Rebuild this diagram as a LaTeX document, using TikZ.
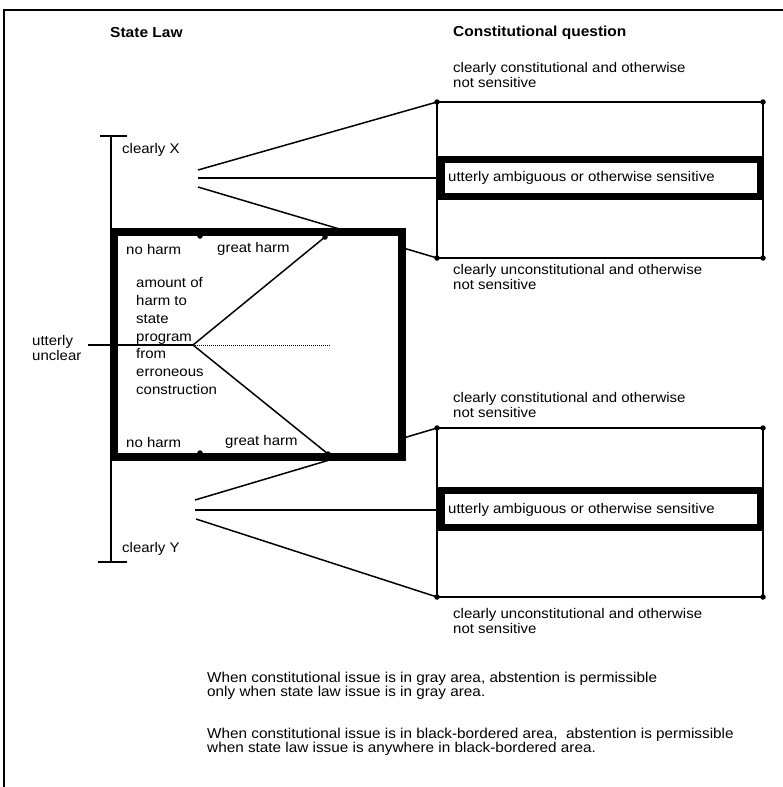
\documentclass[tikz,border=0pt]{standalone}
\usepackage{fontspec}
\setmainfont{Liberation Sans}[FakeStretch=1.07]
\usepackage{tikz}
\tikzstyle{none}=[inner sep=0pt]
\tikzstyle{dot}=[circle,fill=black,draw=none,inner sep=0pt,minimum size=5.5pt]
\tikzstyle{lbl}=[anchor=west,align=left,inner sep=0pt,
  font=\fontsize{14}{15}\selectfont]
\tikzstyle{head}=[anchor=west,inner sep=0pt,font=\fontsize{14.5}{15}\selectfont\bfseries]
\tikzstyle{col}=[anchor=west,align=left,inner sep=0pt,
  font=\fontsize{14}{17.7}\selectfont]
\tikzstyle{note}=[anchor=west,align=left,inner sep=0pt,
  font=\fontsize{14.3}{14}\selectfont]
\tikzstyle{wire}=[line width=1.5pt]
\tikzstyle{frame}=[line width=2pt]
\tikzstyle{heavy}=[line width=8pt,fill=white]
\tikzstyle{band}=[line width=7pt]
\tikzstyle{thin box}=[line width=1.3pt]

\begin{document}
\begin{tikzpicture}[x=1pt,y=-1pt]
            \useasboundingbox (0, 0) rectangle (783, 787);
            % frame
            \node [style=none] (0) at (4, 787) {};
            \node [style=none] (1) at (4, 10) {};
            \node [style=none] (2) at (783, 10) {};
            \draw [style=frame] (0.center) to (1.center) to (2.center);
            % headings
            \node [style=head] (40) at (110, 33) {State Law};
            \node [style=head] (41) at (453, 33) {Constitutional question};
            % state law bracket
            \node [style=none] (3) at (111, 136) {};
            \node [style=none] (4) at (111, 562) {};
            \node [style=none] (5) at (100, 136) {};
            \node [style=none] (6) at (127, 136) {};
            \node [style=none] (7) at (98, 562) {};
            \node [style=none] (8) at (127, 562) {};
            \node [style=lbl] (42) at (122, 150) {clearly X};
            \node [style=lbl] (43) at (122, 549) {clearly Y};
            \node [style=lbl] (44) at (32, 348) {utterly\\unclear};
            \draw [style=wire] (3.center) to (4.center);
            \draw [style=wire] (5.center) to (6.center);
            \draw [style=wire] (7.center) to (8.center);
            % upper fan
            \node [style=none] (9) at (198, 170) {};
            \node [style=none] (10) at (198, 178) {};
            \node [style=none] (11) at (198, 187) {};
            \node [style=dot] (12) at (437, 102) {};
            \node [style=dot] (13) at (763, 102) {};
            \node [style=dot] (14) at (437, 258) {};
            \node [style=dot] (15) at (763, 258) {};
            \node [style=none] (16) at (441, 159) {};
            \node [style=none] (17) at (760, 196) {};
            \node [style=none] (18) at (437, 178) {};
            \draw [style=wire] (9.center) to (12.center);
            \draw [style=wire] (10.center) to (18.center);
            \draw [style=wire] (11.center) to (14.center);
            % lower fan
            \node [style=none] (19) at (195, 500) {};
            \node [style=none] (20) at (195, 510) {};
            \node [style=none] (21) at (196, 519) {};
            \node [style=dot] (22) at (437, 428) {};
            \node [style=dot] (23) at (763, 428) {};
            \node [style=dot] (24) at (437, 597) {};
            \node [style=dot] (25) at (763, 597) {};
            \node [style=none] (26) at (441, 490) {};
            \node [style=none] (27) at (760, 527) {};
            \node [style=none] (28) at (437, 510) {};
            \draw [style=wire] (19.center) to (22.center);
            \draw [style=wire] (20.center) to (28.center);
            \draw [style=wire] (21.center) to (24.center);
            % harm box
            \node [style=none] (29) at (114, 232) {};
            \node [style=none] (30) at (402, 457) {};
            \draw [style=heavy] (29.center) rectangle (30.center);
            \node [style=dot] (31) at (200, 236) {};
            \node [style=dot] (32) at (325, 237) {};
            \node [style=dot] (33) at (200, 453) {};
            \node [style=dot] (34) at (328, 454) {};
            \node [style=none] (35) at (193, 345) {};
            \node [style=none] (36) at (88, 345) {};
            \node [style=none] (37) at (331, 345) {};
            \draw [style=wire] (36.center) to (35.center);
            \draw [style=wire] (35.center) to (32.center);
            \draw [style=wire] (35.center) to (34.center);
            \draw [line width=1pt, densely dotted] (35.center) to (37.center);
            \node [style=lbl] (45) at (126, 249) {no harm};
            \node [style=lbl] (46) at (217, 249) {great harm};
            \node [style=lbl] (47) at (126, 442) {no harm};
            \node [style=lbl] (48) at (225, 442) {great harm};
            \node [style=col] (49) at (136, 336) {amount of\\harm to\\state\\program\\from\\erroneous\\construction};
            % constitutional boxes
            \draw [style=thin box] (12.center) rectangle (15.center);
            \draw [style=band] (16.center) rectangle (17.center);
            \draw [style=thin box] (22.center) rectangle (25.center);
            \draw [style=band] (26.center) rectangle (27.center);
            \node [style=lbl] (50) at (453, 75) {clearly constitutional and otherwise\\not sensitive};
            \node [style=lbl] (51) at (448, 178) {utterly ambiguous or otherwise sensitive};
            \node [style=lbl] (52) at (453, 277) {clearly unconstitutional and otherwise\\not sensitive};
            \node [style=lbl] (53) at (453, 405) {clearly constitutional and otherwise\\not sensitive};
            \node [style=lbl] (54) at (448, 510) {utterly ambiguous or otherwise sensitive};
            \node [style=lbl] (55) at (453, 621) {clearly unconstitutional and otherwise\\not sensitive};
            % notes
            \node [style=note] (56) at (207, 686) {When constitutional issue is in gray area, abstention is permissible\\only when state law issue is in gray area.};
            \node [style=note] (57) at (207, 742) {When constitutional issue is in black-bordered area,\ \ abstention is permissible\\when state law issue is anywhere in black-bordered area.};
\end{tikzpicture}
\end{document}
